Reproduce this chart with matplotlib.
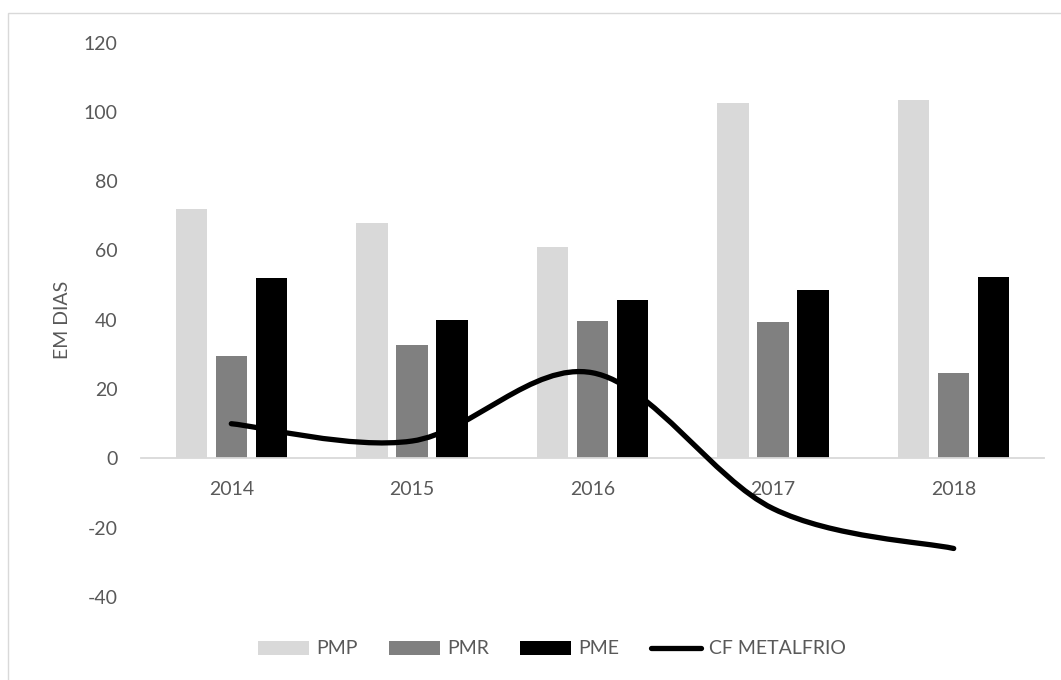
import numpy as np
import matplotlib.pyplot as plt
from matplotlib.path import Path
from matplotlib.patches import PathPatch, Rectangle
from matplotlib.lines import Line2D

plt.rcParams['font.family'] = ['Lato', 'DejaVu Sans']
plt.rcParams['axes.unicode_minus'] = False

# Dados (em dias)
anos = ['2014', '2015', '2016', '2017', '2018']
pmp = [72.0, 67.9, 60.9, 102.6, 103.3]
pmr = [29.5, 32.7, 39.5, 39.4, 24.5]
pme = [52.1, 40.0, 45.6, 48.5, 52.4]
cf_metalfrio = [10.0, 5.0, 24.7, -14.5, -26.0]

W, H = 1061, 680
fig = plt.figure(figsize=(W / 100, H / 100), dpi=100)
ax = fig.add_axes([141 / W, (H - 597) / H, (1044 - 141) / W, (597 - 42.5) / H])

x = np.arange(len(anos))
larg = 0.174
passo = 0.2215
ax.bar(x - passo, pmp, larg, color='#d9d9d9', label='PMP')
ax.bar(x, pmr, larg, color='#808080', label='PMR')
ax.bar(x + passo, pme, larg, color='#000000', label='PME')

# curva suavizada (Bezier tipo Catmull-Rom, como no Excel)
pts = np.column_stack([x, cf_metalfrio]).astype(float)
verts = [tuple(pts[0])]
codes = [Path.MOVETO]
n = len(pts)
for i in range(n - 1):
    p_ant = pts[max(i - 1, 0)]
    p0 = pts[i]
    p1 = pts[i + 1]
    p_prox = pts[min(i + 2, n - 1)]
    c1 = p0 + (p1 - p_ant) / 6
    c2 = p1 - (p_prox - p0) / 6
    verts += [tuple(c1), tuple(c2), tuple(p1)]
    codes += [Path.CURVE4] * 3
ax.add_patch(PathPatch(Path(verts, codes), fill=False, edgecolor='black',
                       linewidth=3.8, capstyle='round', joinstyle='round', zorder=4))

ax.set_xlim(-0.5, len(anos) - 0.5)
ax.set_ylim(-40, 120)
ax.set_yticks(np.arange(-40, 121, 20))
ax.set_xticks(x)
ax.set_xticklabels(anos)

for s in ['top', 'right', 'left']:
    ax.spines[s].set_visible(False)
ax.spines['bottom'].set_position(('data', 0))
ax.spines['bottom'].set_color('#d9d9d9')
ax.spines['bottom'].set_linewidth(1.3)
ax.tick_params(axis='both', length=0, labelsize=14, labelcolor='#595959')
ax.tick_params(axis='y', pad=17)
ax.tick_params(axis='x', pad=16)

fig.text(63 / W, (H - 320) / H, 'EM DIAS', rotation=90, ha='center', va='center',
         fontsize=14, color='#595959')

handles = ax.get_legend_handles_labels()[0]
handles.append(Line2D([], [], color='black', linewidth=3.8, solid_capstyle='round'))
labels = ['PMP', 'PMR', 'PME', 'CF METALFRIO']
leg = fig.legend(handles, labels, loc='center', bbox_to_anchor=(552 / W, (H - 649) / H),
                 ncol=4, frameon=False, fontsize=14, handlelength=2.6,
                 handletextpad=0.4, columnspacing=1.6, labelcolor='#595959')

# borda da área do gráfico
fig.patches.append(Rectangle((8 / W, -0.1), 1.2, (H - 13) / H + 0.1,
                             transform=fig.transFigure, fill=False,
                             edgecolor='#d9d9d9', linewidth=1.0))

fig.savefig('out.png', dpi=100)
